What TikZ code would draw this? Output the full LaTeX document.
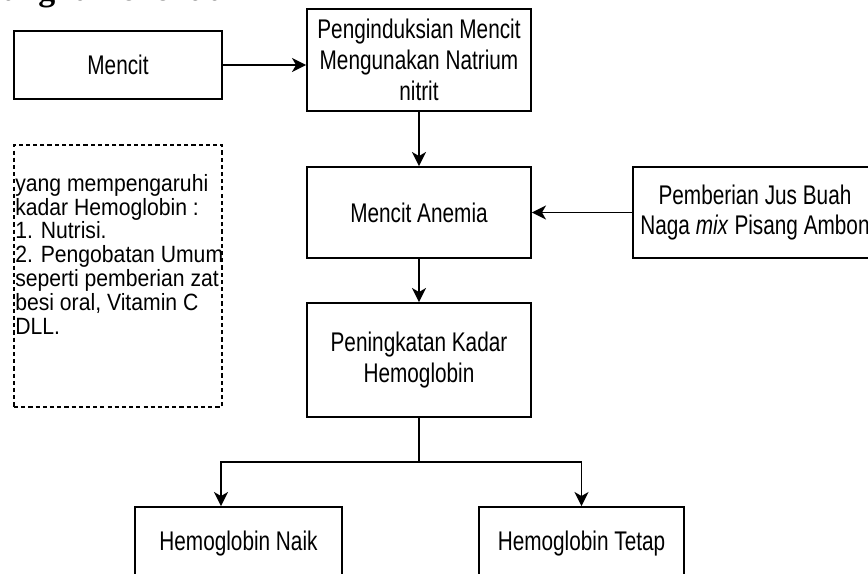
\documentclass[tikz,border=0pt]{standalone}
\usepackage{fontspec}
\setmainfont{Liberation Sans}[FakeStretch=0.77]
\newfontfamily\notefont{Liberation Sans}[FakeStretch=0.9]
\newfontfamily\headfont{Liberation Serif}
\usetikzlibrary{arrows.meta}

\begin{document}
\begin{tikzpicture}[x=1in,y=1in,
  box/.style={draw=black, line width=1.4pt, inner sep=0pt, align=center,
    font=\fontsize{19.5}{22.3}\selectfont},
  notebox/.style={draw=black, line width=0.9pt, dash pattern=on 3pt off 2.2pt, inner sep=0pt},
  conn/.style={line width=1.4pt, -{Stealth[length=0.14in,width=0.14in,inset=0.04in]}},
  plain/.style={line width=1.4pt}]
\useasboundingbox (0,0) rectangle (8.6800,5.7400);
\node[anchor=base east, inner sep=0pt, font=\headfont\bfseries\fontsize{24.5}{28}\selectfont] (judul) at (2.4500,5.7350) {Kerangka Penelitian};
\node[box, minimum width=2.08in, minimum height=0.68in] (mencit) at (1.1800,5.0900) {Mencit};
\node[box, minimum width=2.24in, minimum height=1.02in] (induksi) at (4.1900,5.1400) {Penginduksian Mencit\\Mengunakan Natrium\\nitrit};
\node[box, minimum width=2.24in, minimum height=0.91in] (anemia) at (4.1900,3.6150) {Mencit Anemia};
\node[box, minimum width=2.44in, minimum height=0.91in] (jus) at (7.5500,3.6150) {Pemberian Jus Buah\\Naga \textit{mix} Pisang Ambon};
\node[box, minimum width=2.24in, minimum height=1.14in] (kadar) at (4.1900,2.1400) {Peningkatan Kadar\\Hemoglobin};
\node[box, minimum width=2.07in, minimum height=0.73in] (naik) at (2.3850,0.3050) {Hemoglobin Naik};
\node[box, minimum width=2.05in, minimum height=0.73in] (tetap) at (5.8150,0.3050) {Hemoglobin Tetap};
% faktor lain
\node[notebox, minimum width=2.08in, minimum height=2.62in] (faktor) at (1.1800,2.9800) {};
\node[anchor=north west, inner sep=0pt, align=left, font=\notefont\fontsize{17}{17.2}\selectfont] (faktorisi) at (0.1500,4.0000)
  {yang mempengaruhi\\kadar Hemoglobin :\\1. Nutrisi.\\2. Pengobatan Umum\\seperti pemberian zat\\besi oral, Vitamin C\\DLL.};
% alur
\draw[conn] (mencit.east) -- (mencit.east -| induksi.west);
\draw[conn] (induksi.south) -- (anemia.north);
\draw[conn] (jus.west) -- (anemia.east);
\draw[conn] (anemia.south) -- (kadar.north);
\coordinate (cabang) at (4.1900,1.1200);
\draw[plain] (kadar.south) -- (cabang);
\draw[conn] (cabang) -| ([xshift=-0.175in]naik.north);
\draw[conn] (cabang) -| (tetap.north);
\end{tikzpicture}
\end{document}
